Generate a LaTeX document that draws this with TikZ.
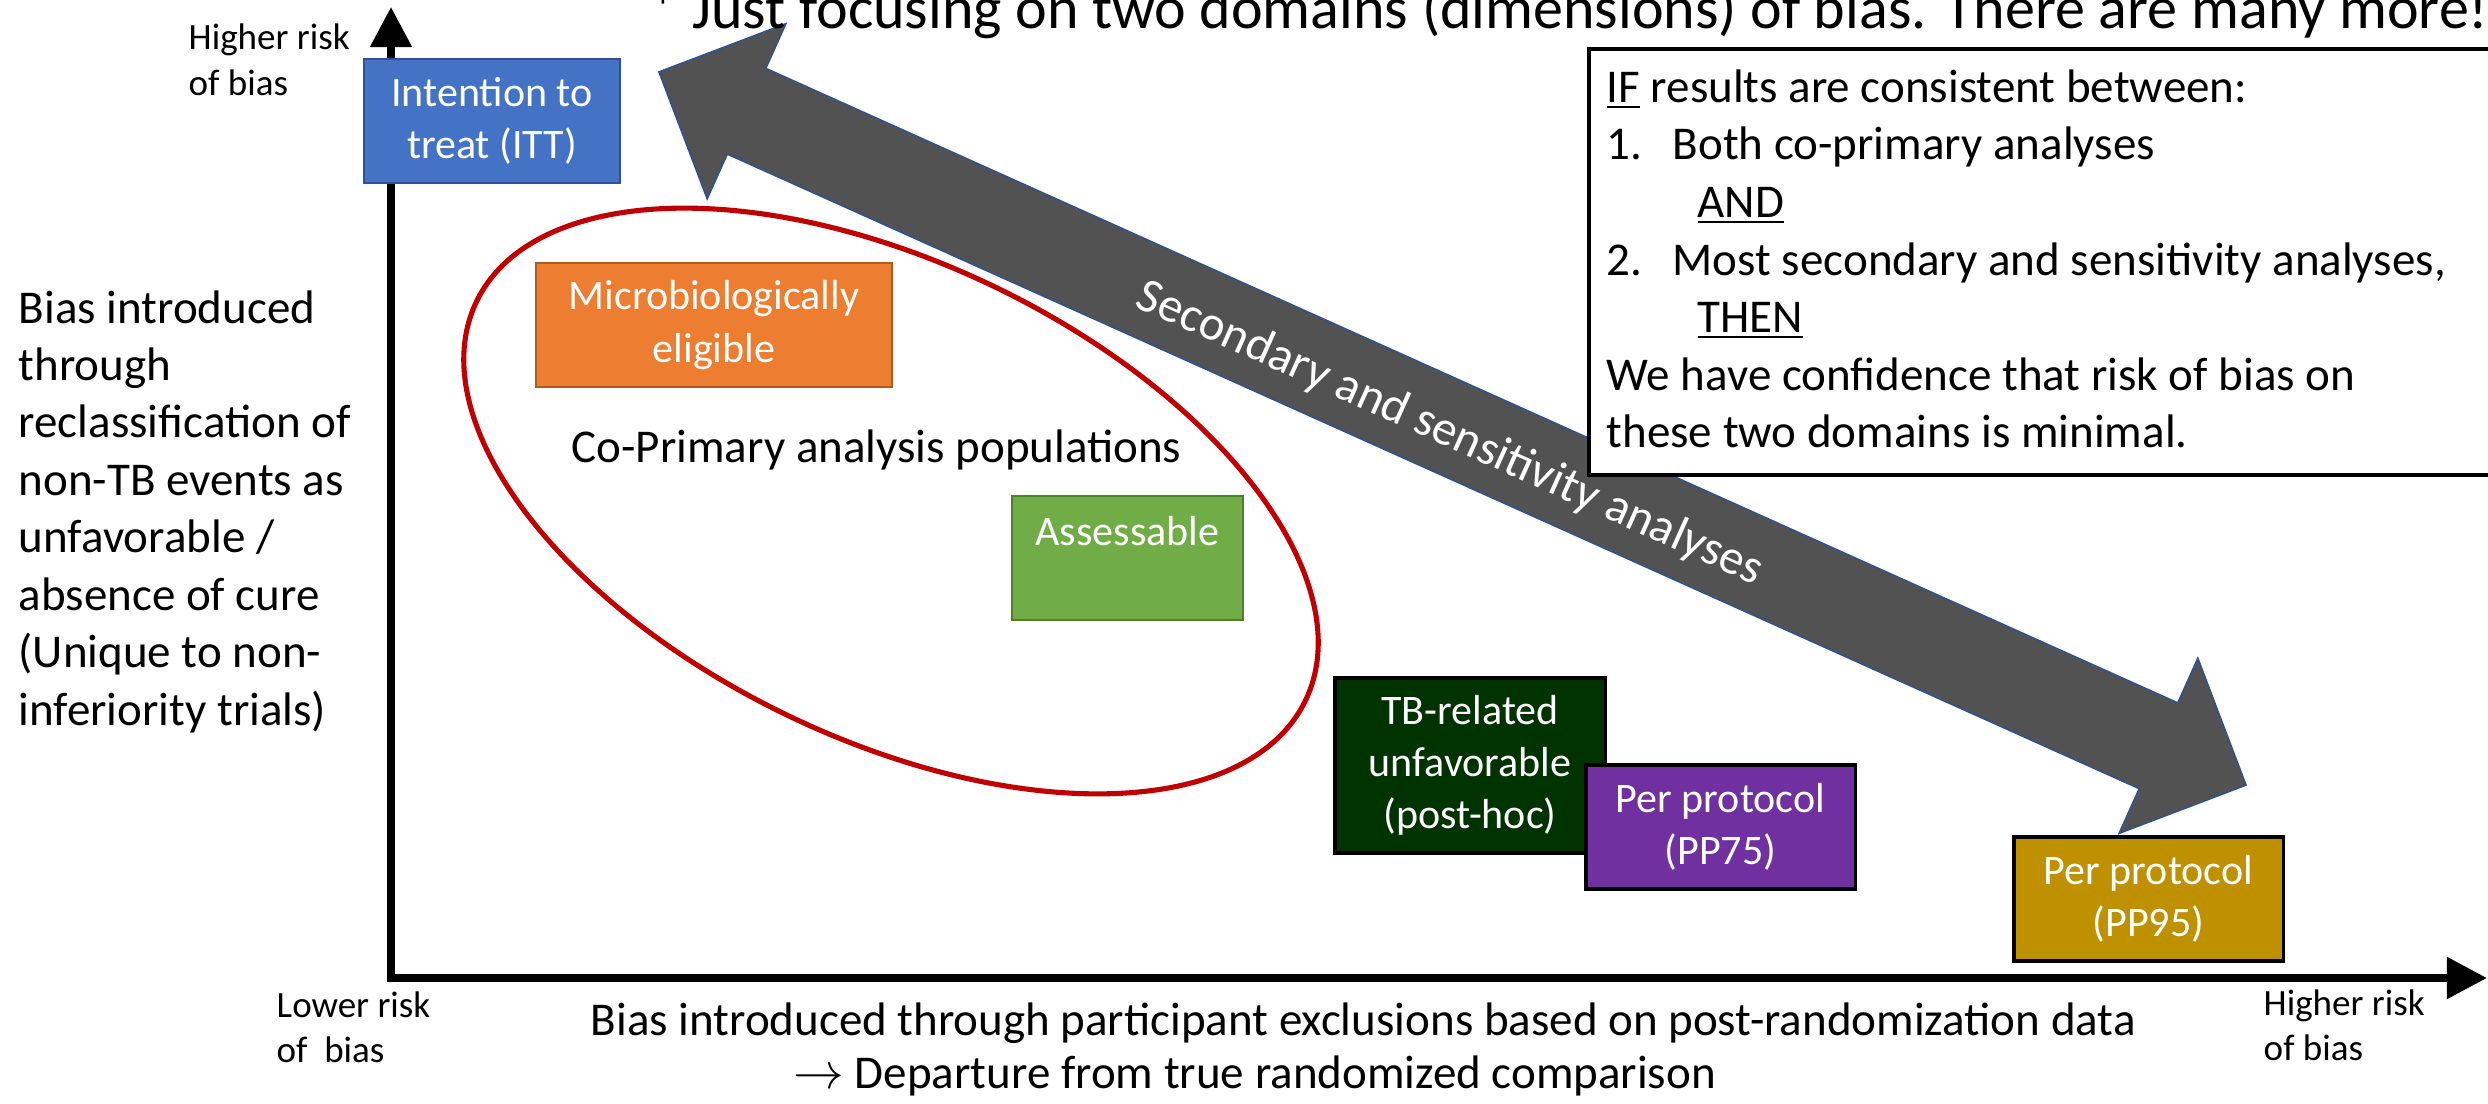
\documentclass[tikz,border=0pt]{standalone}
\usepackage{fontspec}
\setmainfont{Carlito}
\usetikzlibrary{arrows.meta}
\definecolor{ittblue}{HTML}{4472C4}
\definecolor{ittedge}{HTML}{2F528F}
\definecolor{microorange}{HTML}{ED7D31}
\definecolor{microedge}{HTML}{AE5A21}
\definecolor{assgreen}{HTML}{70AD47}
\definecolor{assedge}{HTML}{507E32}
\definecolor{tbgreen}{HTML}{003300}
\definecolor{ppurple}{HTML}{7030A0}
\definecolor{ppgold}{HTML}{BF9000}
\definecolor{ellred}{HTML}{C00000}
\definecolor{arrowgray}{HTML}{525252}
\definecolor{arrowedge}{HTML}{2F528F}
\newcommand\mainsize{\fontsize{13.37}{16.33}\selectfont}
\newcommand\labelsize{\fontsize{13.9}{16.5}\selectfont}
\newcommand\boxsize{\fontsize{11.95}{14.8}\selectfont}
\newcommand\smallsize{\fontsize{10.53}{12.8}\selectfont}
\newcommand\topsize{\fontsize{17.07}{20}\selectfont}
\begin{document}
\begin{tikzpicture}[x=0.01cm, y=-0.01cm,
  popbox/.style={draw, line width=0.7pt, inner sep=0pt, text=white, align=center, font=\boxsize},
  darkbox/.style={popbox, draw=black, line width=0.9pt},
  axisline/.style={line width=2.28pt, -{Triangle[length=11.4pt,width=11.4pt]}},
  plain/.style={inner sep=0pt, align=left, anchor=base west},
]
\useasboundingbox (0,0) rectangle (2488,1103);

% axes
\coordinate (origin) at (391,982);
\coordinate (ytip) at (391,7);
\coordinate (xstart) at (387,978);
\coordinate (xtip) at (2487,978);
\draw[axisline] (origin) -- (ytip);
\draw[axisline] (xstart) -- (xtip);

% big double arrow
\begin{scope}[shift={(1452.5,428.5)}, rotate=-24.2]
\draw[fill=arrowgray, draw=arrowedge, line width=0.45pt]
  (-870,0) -- (-774,-96) -- (-774,-47) -- (774,-47) -- (774,-96) -- (870,0)
  -- (774,96) -- (774,47) -- (-774,47) -- (-774,96) -- cycle;
\end{scope}

% ellipse
\draw[ellred, line width=1.45pt, rotate around={-25.7:(891,501)}] (891,501) ellipse [x radius=460, y radius=238];

% population boxes
\node[popbox, fill=ittblue, draw=ittedge, minimum width=2.56cm, minimum height=1.24cm] (itt) at (492,121) {Intention to\\treat (ITT)};
\node[popbox, fill=microorange, draw=microedge, minimum width=3.56cm, minimum height=1.24cm] (micro) at (714,325) {Microbiologically\\eligible};
\node[popbox, fill=assgreen, draw=assedge, minimum width=2.31cm, minimum height=1.24cm] (assess) at (1127.5,558) {};
\node[inner sep=0pt, text=white, font=\boxsize, anchor=base] (assesstext) at (1127.5,545) {Assessable};
\node[darkbox, fill=tbgreen, minimum width=2.70cm, minimum height=1.75cm] (tb) at (1470,765.5) {TB-related\\unfavorable\\(post-hoc)};
\node[darkbox, fill=ppurple, minimum width=2.69cm, minimum height=1.24cm] (pp75) at (1720.5,827) {Per protocol\\(PP75)};
\node[darkbox, fill=ppgold, minimum width=2.69cm, minimum height=1.24cm] (pp95) at (2148.5,899) {Per protocol\\(PP95)};

\node[plain, font=\mainsize] (copop) at (571,462) {Co-Primary analysis populations};

% conclusion box
\node[draw, line width=1.1pt, fill=white, inner sep=0pt, anchor=north west, minimum width=9.2cm, minimum height=4.26cm] (concl) at (1587,47) {};
\node[plain, font=\mainsize] (c1) at (1606,102) {\underline{IF} results are consistent between:};
\node[plain, font=\mainsize] (c2a) at (1606,159) {1.};
\node[plain, font=\mainsize] (c2b) at (1672,159) {Both co-primary analyses};
\node[plain, font=\mainsize] (c3) at (1697,217) {\underline{AND}};
\node[plain, font=\mainsize] (c4a) at (1606,275) {2.};
\node[plain, font=\mainsize] (c4b) at (1672,275) {Most secondary and sensitivity analyses,};
\node[plain, font=\mainsize] (c5) at (1697,332) {\underline{THEN}};
\node[plain, font=\mainsize] (c6) at (1606,390) {We have confidence that risk of bias on};
\node[plain, font=\mainsize] (c7) at (1606,447) {these two domains is minimal.};

% arrow label
\node[rotate=-24.2, text=white, font=\labelsize, inner sep=0pt] (seclabel) at (1450,434) {Secondary and sensitivity analyses};

% texts (base anchor of a multi-line node = last line)
\node[plain, font=\topsize] (note) at (648,28) {* Just focusing on two domains (dimensions) of bias. There are many more!};
\node[plain, font=\mainsize] (ylabel) at (18,725) {Bias introduced\\through\\reclassification of\\non-TB events as\\unfavorable /\\absence of cure\\(Unique to non-\\inferiority trials)};
\node[plain, font=\smallsize] (yhigh) at (188,95) {Higher risk\\of bias};
\node[plain, font=\smallsize] (xlow) at (276,1062) {Lower risk\\of\ \ bias};
\node[plain, font=\smallsize] (xhigh) at (2263,1060) {Higher risk\\of bias};
\node[plain, font=\mainsize] (xlabel1) at (590,1035) {Bias introduced through participant exclusions based on post-randomization data};
\node[plain, font=\mainsize] (xlabel2) at (793,1088) {$\rightarrow$ Departure from true randomized comparison};
\end{tikzpicture}
\end{document}
